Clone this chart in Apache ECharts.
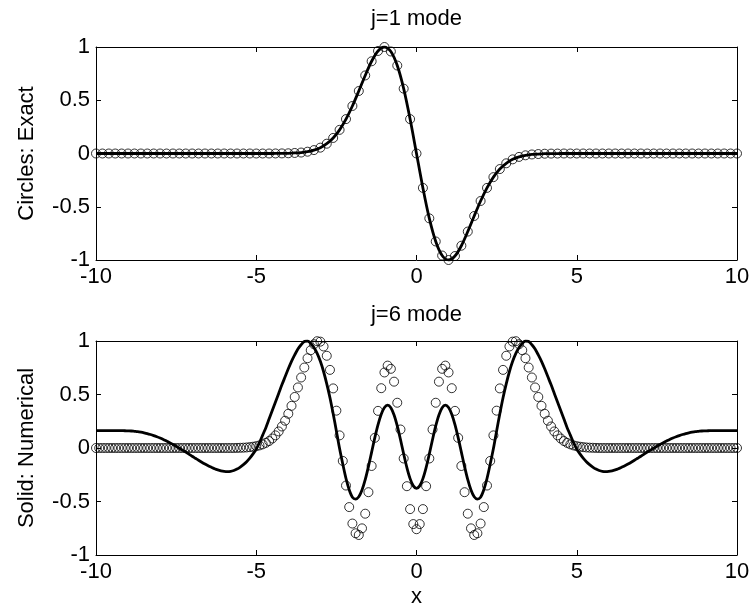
<!DOCTYPE html>
<html>
<head>
<meta charset="utf-8">
<script src="https://cdn.jsdelivr.net/npm/echarts@6/dist/echarts.min.js"></script>
<style>
  html, body { margin: 0; padding: 0; background: #fff; }
  #chart { width: 754px; height: 613px; }
</style>
</head>
<body>
<div id="chart"></div>
<script>
  // sample grids: all start at x = -10
  var xStart = -10,
      step1  = 0.2,   // j=1 circles and line
      step6  = 0.1,   // j=6 circles and line
      stepN6 = 0.1;

  var xTicks = [-10, -5, 0, 5, 10],
      yTicks = [-1, -0.5, 0, 0.5, 1];

  var titles  = ['j=1 mode', 'j=6 mode'],
      yNames  = ['Circles: Exact', 'Solid: Numerical'],
      xName   = 'x';

  // j=1 mode, exact (circles), x = -10 .. 10 step 0.2
  var exact1 = [
    0,0,0,0,0,0,0,0,0,0,0,0,0,0,0,0,0,0,0,0,0,0,0,0,0,0,0,0,
    0.0005,0.001,0.002,0.005,0.009,0.017,0.032,0.055,0.092,0.146,0.222,
    0.323,0.446,0.587,0.733,0.866,0.963,1.0,0.958,0.826,0.609,0.323,
    0,
    -0.323,-0.609,-0.826,-0.958,-1.0,-0.963,-0.866,-0.733,-0.587,-0.446,
    -0.323,-0.222,-0.146,-0.092,-0.055,-0.032,-0.017,-0.009,-0.005,-0.002,-0.001,-0.0005,
    0,0,0,0,0,0,0,0,0,0,0,0,0,0,0,0,0,0,0,0,0,0,0,0,0,0,0,0
  ];

  // j=1 mode, numerical (solid line), same grid
  var num1 = [
    0,0,0,0,0,0,0,0,0,0,0,0,0,0,0,0,0,0,0,0,0,0,0,0,0,0,0,0,
    0.0005,0.001,0.002,0.005,0.009,0.017,0.032,0.055,0.092,0.146,0.222,
    0.323,0.446,0.587,0.733,0.866,0.963,1.0,0.958,0.826,0.609,0.323,
    0,
    -0.323,-0.609,-0.826,-0.958,-1.0,-0.963,-0.866,-0.733,-0.587,-0.446,
    -0.323,-0.222,-0.146,-0.092,-0.055,-0.032,-0.017,-0.009,-0.005,-0.002,-0.001,-0.0005,
    0,0,0,0,0,0,0,0,0,0,0,0,0,0,0,0,0,0,0,0,0,0,0,0,0,0,0,0
  ];

  // j=6 mode, exact (circles), x = -10 .. 10 step 0.1
  var exact6 = [
    0,0,0,0,0,0,0,0,0,0,0,0,0,0,0,0,0,0,0,0,0,0,
    0,0,0,0,0,0,0,0,0,0,0,0,0,0,0,0,0,0,0,0,0,0,
    0.001,0.002,0.003,0.005,0.008,0.012,0.017,0.024,0.034,0.048,0.065,
    0.089,0.118,0.155,0.201,0.255,0.320,0.394,0.477,0.566,0.659,0.752,
    0.839,0.914,0.970,0.998,0.994,0.949,0.862,0.730,0.557,0.349,0.118,
    -0.121,-0.351,-0.552,-0.706,-0.797,-0.813,-0.751,-0.614,-0.413,-0.168,
    0.095,0.347,0.559,0.706,0.770,0.740,0.620,0.423,0.173,-0.098,-0.357,
    -0.571,-0.711,
    -0.759,
    -0.711,-0.571,
    -0.357,-0.098,0.173,0.423,0.620,0.740,0.770,0.706,0.559,0.347,0.095,
    -0.168,-0.413,-0.614,-0.751,-0.813,-0.797,-0.706,-0.552,-0.351,-0.121,
    0.118,0.349,0.557,0.730,0.862,0.949,0.994,0.998,0.970,0.914,0.839,
    0.752,0.659,0.566,0.477,0.394,0.320,0.255,0.201,0.155,0.118,0.089,
    0.065,0.048,0.034,0.024,0.017,0.012,0.008,0.005,0.003,0.002,0.001,
    0,0,0,0,0,0,0,0,0,0,0,0,0,0,0,0,0,0,0,0,0,0,
    0,0,0,0,0,0,0,0,0,0,0,0,0,0,0,0,0,0,0,0,0,0
  ];

  // j=6 mode, numerical (solid line), x = -10 .. 10 step 0.1
  var num6 = [
    0.163,
    0.163,0.163,0.163,0.163,0.163,0.163,0.163,0.162,0.161,0.16,
    0.159,0.156,0.153,0.148,0.142,0.135,0.126,0.116,0.105,0.093,
    0.08,0.065,0.05,0.033,0.016,-0.002,-0.02,-0.038,-0.057,-0.077,
    -0.096,-0.115,-0.133,-0.15,-0.166,-0.18,-0.194,-0.205,-0.213,-0.218,
    -0.22,-0.218,-0.21,-0.197,-0.178,-0.155,-0.128,-0.095,-0.055,-0.01,
    0.05,0.12,0.19,0.27,0.35,0.43,0.51,0.59,0.665,0.74,
    0.81,0.87,0.925,0.965,0.995,1.0,0.98,0.94,0.885,0.81,
    0.715,0.60,0.47,0.32,0.16,-0.005,-0.15,-0.285,-0.39,-0.46,
    -0.477,-0.456,-0.393,-0.296,-0.174,-0.039,0.097,0.219,0.316,0.379,
    0.40,0.377,0.309,0.206,0.079,-0.056,-0.183,-0.286,-0.354,
    -0.377,
    -0.354,-0.286,-0.183,-0.056,0.079,0.206,0.309,0.377,0.40,
    0.379,0.316,0.219,0.097,-0.039,-0.174,-0.296,-0.393,-0.456,-0.477,
    -0.46,-0.39,-0.285,-0.15,-0.005,0.16,0.32,0.47,0.60,0.715,
    0.81,0.885,0.94,0.98,1.0,0.995,0.965,0.925,0.87,0.81,
    0.74,0.665,0.59,0.51,0.43,0.35,0.27,0.19,0.12,0.05,
    -0.01,-0.055,-0.095,-0.128,-0.155,-0.178,-0.197,-0.21,-0.218,-0.22,
    -0.218,-0.213,-0.205,-0.194,-0.18,-0.166,-0.15,-0.133,-0.115,-0.096,
    -0.077,-0.057,-0.038,-0.02,-0.002,0.016,0.033,0.05,0.065,0.08,
    0.093,0.105,0.116,0.126,0.135,0.142,0.148,0.153,0.156,0.159,
    0.16,0.161,0.162,0.163,0.163,0.163,0.163,0.163,0.163,0.163,
    0.163
  ];

  function toPairs(values, step) {
    var out = [];
    for (var k = 0; k < values.length; k++) {
      out.push([Math.round((xStart + k * step) * 100) / 100, values[k]]);
    }
    return out;
  }

  var font = 'Liberation Sans, Arial, Helvetica, sans-serif';
  var black = '#000';
  var fs = 22;

  var grids = [
    {left: 96, right: 17, top: 47, height: 213},
    {left: 96, right: 17, top: 341, height: 214}
  ];

  function xAx(g, pos) {
    var ax = {
      type: 'value', gridIndex: g, position: pos,
      min: xTicks[0], max: xTicks[xTicks.length - 1], interval: 5,
      axisLine: {onZero: false, lineStyle: {color: black, width: 1}},
      axisTick: {inside: true, length: 5, lineStyle: {color: black}},
      axisLabel: {show: pos === 'bottom', color: black, fontSize: fs, fontFamily: font, margin: 6},
      splitLine: {show: false}
    };
    if (pos === 'top') {
      ax.name = titles[g];
      ax.nameLocation = 'middle';
      ax.nameGap = g === 0 ? 17 : 15;
      ax.nameTextStyle = {color: black, fontSize: fs, fontFamily: font};
    } else if (g === 1) {
      ax.name = xName;
      ax.nameLocation = 'middle';
      ax.nameGap = 31;
      ax.nameTextStyle = {color: black, fontSize: fs, fontFamily: font};
    }
    return ax;
  }

  function yAx(g, pos) {
    var ax = {
      type: 'value', gridIndex: g, position: pos,
      min: yTicks[0], max: yTicks[yTicks.length - 1], interval: 0.5,
      axisLine: {onZero: false, lineStyle: {color: black, width: 1}},
      axisTick: {inside: true, length: 5, lineStyle: {color: black}},
      axisLabel: {show: pos === 'left', color: black, fontSize: fs, fontFamily: font, margin: 6},
      splitLine: {show: false}
    };
    if (pos === 'left') {
      ax.name = yNames[g];
      ax.nameLocation = 'middle';
      ax.nameGap = 58;
      ax.nameTextStyle = {color: black, fontSize: fs, fontFamily: font};
    }
    return ax;
  }

  function circles(data, step, axIdx) {
    return {
      type: 'scatter', xAxisIndex: axIdx, yAxisIndex: axIdx,
      data: toPairs(data, step),
      symbol: 'circle', symbolSize: 9, clip: false,
      itemStyle: {color: 'rgba(0,0,0,0)', borderColor: black, borderWidth: 1},
      z: 2
    };
  }

  function solid(data, step, axIdx) {
    return {
      type: 'line', xAxisIndex: axIdx, yAxisIndex: axIdx,
      data: toPairs(data, step),
      showSymbol: false, smooth: 0.3,
      lineStyle: {color: black, width: 2.8},
      z: 3
    };
  }

  var chart = echarts.init(document.getElementById('chart'), null, {renderer: 'canvas'});

  var option = {
    backgroundColor: '#fff',
    animation: false,
    grid: grids,
    xAxis: [xAx(0, 'bottom'), xAx(0, 'top'), xAx(1, 'bottom'), xAx(1, 'top')],
    yAxis: [yAx(0, 'left'), yAx(0, 'right'), yAx(1, 'left'), yAx(1, 'right')],
    series: [
      circles(exact1, step1, 0),
      solid(num1, step1, 0),
      circles(exact6, step6, 2),
      solid(num6, stepN6, 2)
    ]
  };

  chart.setOption(option);
</script>
</body>
</html>
